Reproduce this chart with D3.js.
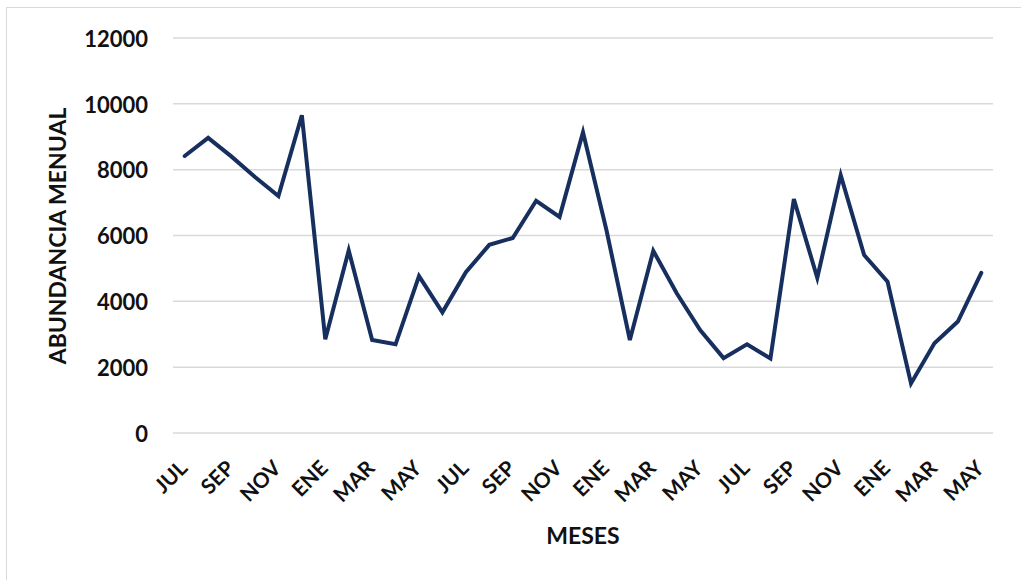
<!DOCTYPE html>
<html>
<head>
<meta charset="utf-8">
<script src="https://cdn.jsdelivr.net/npm/d3@7"></script>
<style>
  html, body { margin: 0; padding: 0; background: #ffffff; }
  svg { display: block; }
</style>
</head>
<body>
<svg id="chart" width="1021" height="580"></svg>
<script>
// ---- data ----
const months = ["JUL","AGO","SEP","OCT","NOV","DIC","ENE","FEB","MAR","ABR","MAY","JUN",
                "JUL","AGO","SEP","OCT","NOV","DIC","ENE","FEB","MAR","ABR","MAY","JUN",
                "JUL","AGO","SEP","OCT","NOV","DIC","ENE","FEB","MAR","ABR","MAY"];
const abundance = [8400, 8950, 8380, 7760, 7180, 9640, 2830, 5530, 2810, 2680, 4750, 3650,
                   4870, 5700, 5910, 7040, 6550, 9120, 6150, 2810, 5520, 4230, 3110, 2260,
                   2680, 2250, 7090, 4700, 7820, 5390, 4580, 1490, 2710, 3370, 4850];
const yTicks = [0, 2000, 4000, 6000, 8000, 10000, 12000];
const yTitle = "ABUNDANCIA MENUAL";
const xTitle = "MESES";

// ---- layout ----
const svg = d3.select("#chart");
const pL = 173, pR = 993, pT = 37.5, pB = 432.5;
const font = "Lato, 'Open Sans', sans-serif";

svg.append("rect").attr("x", 6.5).attr("y", 7.5).attr("width", 1200).attr("height", 800)
  .attr("fill", "#fff").attr("stroke", "#d9d9d9").attr("stroke-width", 1);

const idx = months.map((m, i) => i);
const x = d3.scaleBand().domain(idx).range([pL, pR]).padding(0);
const y = d3.scaleLinear().domain([0, 12000]).range([pB, pT]);
const cx = i => x(i) + x.bandwidth() / 2;

// gridlines + y labels via axis
const yAxis = d3.axisLeft(y).tickValues(yTicks).tickSize(-(pR - pL)).tickPadding(25).tickFormat(d3.format("d"));
const gy = svg.append("g").attr("transform", `translate(${pL},0)`).call(yAxis);
gy.select(".domain").remove();
gy.selectAll(".tick line").attr("stroke", "#d9d9d9").attr("stroke-width", 1.5);
gy.selectAll(".tick text").attr("fill", "#111").attr("font-family", font)
  .attr("font-weight", 700).attr("font-size", 22).attr("dy", "0.4em");

// x labels via axis (every other month)
const xAxis = d3.axisBottom(x).tickValues(idx.filter(i => i % 2 === 0))
  .tickFormat(i => months[i]).tickSize(0);
const gx = svg.append("g").attr("transform", `translate(0,${pB})`).call(xAxis);
gx.select(".domain").remove();
gx.selectAll(".tick text")
  .attr("fill", "#111").attr("font-family", font).attr("font-weight", 700).attr("font-size", 21)
  .attr("text-anchor", "end").attr("dy", 0).attr("y", 0)
  .attr("transform", "translate(4,37) rotate(-45)");

// line
const line = d3.line().x((d, i) => cx(i)).y(d => y(d));
svg.append("path").datum(abundance).attr("d", line)
  .attr("fill", "none").attr("stroke", "#172f5e").attr("stroke-width", 4)
  .attr("stroke-linejoin", "miter").attr("stroke-linecap", "round");

// titles
svg.append("text").attr("transform", "translate(66,236) rotate(-90)")
  .attr("text-anchor", "middle").attr("font-family", font).attr("font-weight", 700)
  .attr("font-size", 23).attr("fill", "#111").text(yTitle);
svg.append("text").attr("x", (pL + pR) / 2).attr("y", 543.5)
  .attr("text-anchor", "middle").attr("font-family", font).attr("font-weight", 700)
  .attr("font-size", 23).attr("fill", "#111").text(xTitle);
</script>
</body>
</html>
